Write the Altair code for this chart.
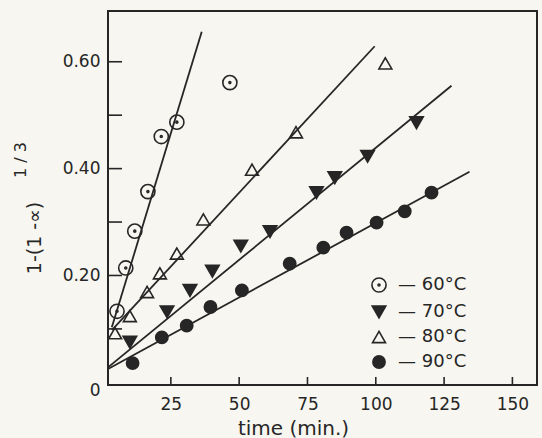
import altair as alt
import pandas as pd

INK = "#262626"
BG = "#f7f6f0"

series_names = ["60°C", "70°C", "80°C", "90°C"]

t60 = [5.3, 8.5, 11.8, 16.6, 21.5, 27.2, 46.6]
y60 = [0.133, 0.214, 0.283, 0.357, 0.460, 0.487, 0.561]
t70 = [10.0, 23.6, 32.0, 40.2, 50.6, 61.3, 78.3, 85.0, 97.0, 114.9]
y70 = [0.075, 0.132, 0.172, 0.208, 0.255, 0.282, 0.355, 0.383, 0.423, 0.486]
t80 = [4.6, 10.0, 16.3, 21.0, 27.2, 36.9, 54.7, 70.8, 103.5]
y80 = [0.092, 0.124, 0.169, 0.204, 0.241, 0.305, 0.398, 0.468, 0.597]
t90 = [11.0, 21.7, 30.8, 39.5, 51.0, 68.5, 80.8, 89.3, 100.3, 110.6, 120.4]
y90 = [0.036, 0.084, 0.106, 0.141, 0.172, 0.222, 0.252, 0.280, 0.299, 0.320, 0.355]

fit_t_start = [3.4, 2.0, 3.5, 2.0]
fit_y_start = [0.103, 0.028, 0.098, 0.025]
fit_t_end = [36.3, 127.7, 99.6, 134.3]
fit_y_end = [0.656, 0.555, 0.629, 0.394]

x_tick_values = [25, 50, 75, 100, 125, 150]
y_tick_values = [0.1, 0.2, 0.3, 0.4, 0.5, 0.6]
y_label_values = [0, 0.2, 0.4, 0.6]

# ---- tables built from the arrays ----
rows = []
for name, ts, ys in zip(series_names, [t60, t70, t80, t90], [y60, y70, y80, y90]):
    for t, y in zip(ts, ys):
        rows.append({"series": name, "t": t, "y": y})
points_df = pd.DataFrame(rows)

fit_rows = []
for name, t0, y0, t1, y1 in zip(series_names, fit_t_start, fit_y_start, fit_t_end, fit_y_end):
    fit_rows.append({"series": name, "t": t0, "y": y0})
    fit_rows.append({"series": name, "t": t1, "y": y1})
fit_df = pd.DataFrame(fit_rows)

xtick_df = pd.DataFrame({"t": x_tick_values})
ytick_df = pd.DataFrame({"y": y_tick_values})
one = pd.DataFrame({"a": [0]})

xscale = alt.Scale(domain=[2, 159], nice=False, zero=False)
yscale = alt.Scale(domain=[-0.005, 0.695], nice=False, zero=False)

x_axis = alt.Axis(
    values=x_tick_values, ticks=False, domain=False, grid=False,
    labelFontSize=17, labelPadding=11, labelColor=INK, labelFont="DejaVu Sans",
    labelFlush=False,
    title="time (min.)", titleFontSize=20, titleFontWeight="normal",
    titleFont="DejaVu Sans", titleColor=INK,
    titleX=185, titleY=43, titleBaseline="middle", titleAlign="center",
)
y_axis = alt.Axis(
    values=y_label_values, ticks=False, domain=False, grid=False,
    labelFontSize=17, labelPadding=8, labelColor=INK, labelFont="DejaVu Sans",
    labelExpr="datum.value == 0 ? '0' : format(datum.value, '.2f')",
    labelBaseline={"condition": {"test": "datum.value == 0", "value": "top"}, "value": "middle"},
    labelFlush=False,
    title=None,
)

X = alt.X("t:Q", scale=xscale, axis=x_axis)
Y = alt.Y("y:Q", scale=yscale, axis=y_axis)

circle_dot = ("M-1,0A1,1,0,1,0,1,0A1,1,0,1,0,-1,0Z "
              "M-0.14,0A0.14,0.14,0,1,0,0.14,0A0.14,0.14,0,1,0,-0.14,0Z")

legend = alt.Legend(
    title=None, orient="none", legendX=262, legendY=265, padding=0,
    labelFontSize=18, labelFont="DejaVu Sans", labelColor=INK,
    labelExpr="'— ' + datum.label", labelOffset=10, rowPadding=6,
    symbolStrokeColor=INK, symbolStrokeWidth=1.6, symbolOpacity=1,
)

xticks = alt.Chart(xtick_df).mark_rule(color=INK, strokeWidth=1.6).encode(
    x=X, y=alt.value(374), y2=alt.value(366)
)
yticks = alt.Chart(ytick_df).mark_rule(color=INK, strokeWidth=1.6).encode(
    y=Y, x=alt.value(0), x2=alt.value(14)
)

lines = alt.Chart(fit_df).mark_line(color=INK, strokeWidth=1.8).encode(
    x=X, y=Y, detail="series:N"
)

points = alt.Chart(points_df).mark_point(strokeWidth=1.6, opacity=1).encode(
    x=X, y=Y,
    shape=alt.Shape("series:N", scale=alt.Scale(domain=series_names,
                    range=[circle_dot, "triangle-down", "triangle-up", "circle"]), legend=legend),
    fill=alt.Fill("series:N", scale=alt.Scale(domain=series_names,
                  range=["transparent", INK, "transparent", INK]), legend=legend),
    stroke=alt.Stroke("series:N", scale=alt.Scale(domain=series_names,
                      range=[INK, INK, INK, INK]), legend=legend),
    size=alt.Size("series:N", scale=alt.Scale(domain=series_names,
                  range=[200, 150, 150, 100]), legend=legend),
)

ytitle_main = alt.Chart(one).mark_text(
    angle=270, fontSize=19, font="DejaVu Sans", color=INK, align="center", baseline="middle"
).encode(x=alt.value(-73), y=alt.value(227), text=alt.value("1-(1 -∝)"))

ytitle_sup = alt.Chart(one).mark_text(
    angle=270, fontSize=16, font="DejaVu Sans", color=INK, align="center", baseline="middle"
).encode(x=alt.value(-87), y=alt.value(149), text=alt.value("1 / 3"))

chart = alt.layer(xticks, yticks, lines, points, ytitle_main, ytitle_sup).properties(
    width=429, height=374,
    padding={"left": 108, "top": 11, "right": 5, "bottom": 53},
    autosize=alt.AutoSizeParams(type="none"),
    background=BG,
).configure_view(stroke=INK, strokeWidth=2)

chart.save("out.html", embed_options={"renderer": "svg", "actions": False})
